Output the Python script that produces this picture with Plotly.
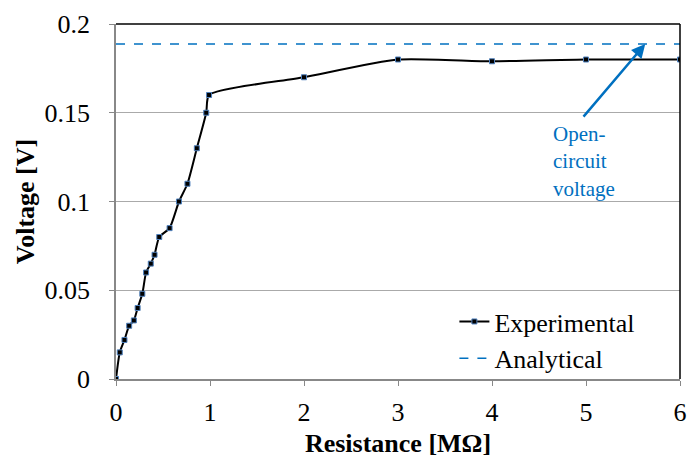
import plotly.graph_objects as go

resistance = [0, 0.04, 0.09, 0.14, 0.19, 0.23, 0.28, 0.32, 0.37, 0.41, 0.46, 0.57, 0.67, 0.76, 0.86, 0.96, 0.99, 2, 3, 4, 5, 6]
voltage = [0, 0.015, 0.022, 0.030, 0.033, 0.040, 0.048, 0.060, 0.065, 0.070, 0.080, 0.085, 0.100, 0.110, 0.130, 0.150, 0.160, 0.170, 0.180, 0.179, 0.180, 0.180]
analytical_x = [0, 6]
analytical_v = [0.1887, 0.1887]
x_ticks = [0, 1, 2, 3, 4, 5, 6]
y_ticks = [0, 0.05, 0.1, 0.15, 0.2]
y_ticklabels = ["0", "0.05", "0.1", "0.15", "0.2"]

FONT = "Liberation Serif, Times New Roman, serif"
BLUE = "#0070C0"

fig = go.Figure()
fig.add_trace(go.Scatter(
    x=resistance, y=voltage, mode="lines+markers", name="Experimental",
    line=dict(color="black", width=2, shape="spline", smoothing=0.6),
    marker=dict(symbol="square", size=5, color="black", line=dict(color="#4F81BD", width=1)),
))
fig.add_trace(go.Scatter(
    x=analytical_x, y=analytical_v, mode="lines", name="Analytical",
    line=dict(color=BLUE, width=1.5, dash="dash"),
))

fig.add_annotation(
    x=5.63, y=0.1887, ax=4.96, ay=0.147, xref="x", yref="y", axref="x", ayref="y",
    text="", showarrow=True, arrowhead=2, arrowsize=1.1, arrowwidth=2.5, arrowcolor=BLUE,
)
fig.add_annotation(
    x=4.63, y=0.1458, xref="x", yref="y", text="Open-<br>circuit<br>voltage",
    showarrow=False, align="left", xanchor="left", yanchor="top",
    font=dict(family=FONT, size=21, color=BLUE),
)

# black top and right border
fig.add_shape(type="line", xref="paper", yref="paper", x0=0, x1=1, y0=1, y1=1, line=dict(color="black", width=1.5))
fig.add_shape(type="line", xref="paper", yref="paper", x0=1, x1=1, y0=0, y1=1, line=dict(color="black", width=1.5))

fig.update_layout(
    width=687, height=461,
    margin=dict(l=116, r=7, t=24, b=82, autoexpand=False),
    paper_bgcolor="white", plot_bgcolor="white",
    font=dict(family=FONT, size=26, color="black"),
    showlegend=True,
    legend=dict(x=0.6, y=0.228, xanchor="left", yanchor="top", bgcolor="rgba(255,255,255,0)",
                font=dict(family=FONT, size=26), tracegroupgap=0, itemwidth=30),
    xaxis=dict(
        range=[0, 6], tickvals=x_ticks, showgrid=False, zeroline=False,
        showline=True, linecolor="#888888", linewidth=1.5,
        ticks="outside", ticklen=5, tickcolor="#888888", ticklabelstandoff=4,
        ticklabeloverflow="allow",
        title=dict(text="<b>Resistance [MΩ]</b>", font=dict(family=FONT, size=26), standoff=8),
    ),
    yaxis=dict(
        range=[0, 0.2], tickvals=y_ticks, ticktext=y_ticklabels,
        showgrid=True, gridcolor="#AAAAAA", gridwidth=1, zeroline=False,
        showline=True, linecolor="#888888", linewidth=1.5,
        ticks="outside", ticklen=5, tickcolor="#888888", ticklabelstandoff=14,
        title=dict(text="<b>Voltage [V]</b>", font=dict(family=FONT, size=26), standoff=2),
    ),
)

fig.write_html(
    "out.html",
    config={"displayModeBar": False},
    post_script="document.body.style.margin='0';document.body.style.overflow='hidden';",
)
